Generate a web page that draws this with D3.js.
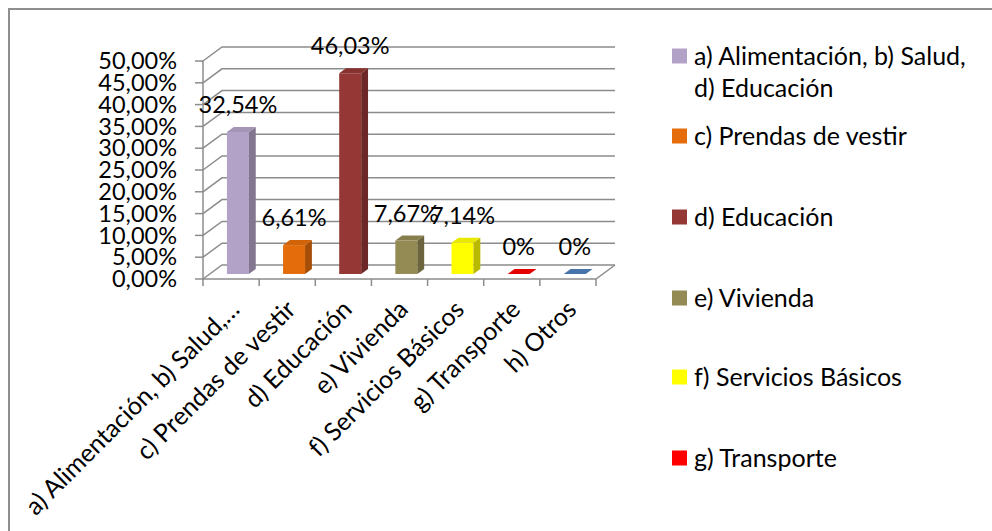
<!DOCTYPE html>
<html>
<head>
<meta charset="utf-8">
<script src="https://cdn.jsdelivr.net/npm/d3@7"></script>
<style>
  body { margin: 0; background: #fff; }
  svg text { font-family: Lato, "Open Sans", sans-serif; fill: #000; }
</style>
</head>
<body>
<svg id="chart" width="992" height="531"></svg>
<script>
"use strict";

// chart data
const categories = ["a) Alimentación, b) Salud,…", "c) Prendas de vestir", "d) Educación",
                    "e) Vivienda", "f) Servicios Básicos", "g) Transporte", "h) Otros"];
const values = [0.3254, 0.0661, 0.4603, 0.0767, 0.0714, 0, 0];
const valueLabels = ["32,54%", "6,61%", "46,03%", "7,67%", "7,14%", "0%", "0%"];
const colors = ["#b3a2c7", "#e46c0a", "#953735", "#948a54", "#ffff00", "#ff0000", "#4f81bd"];
const legendLabels = [["a) Alimentación, b) Salud,", "d) Educación"], ["c) Prendas de vestir"],
                      ["d) Educación"], ["e) Vivienda"], ["f) Servicios Básicos"], ["g) Transporte"]];
const yTicks = [0, 0.05, 0.1, 0.15, 0.2, 0.25, 0.3, 0.35, 0.4, 0.45, 0.5];

const plotLeft = 203, plotRight = 596;
const floorY = 279, topY = 61;
const depthX = 19, depthY = -14;        // offset of the back wall
const barFront = 0.36, barBack = 0.72;  // bar position inside the depth
const barW = 22;
const textSize = 25, numSize = 23.5;
const gridColor = "#8c8c8c";

const svg = d3.select("#chart");

// outer chart border (runs off the page at right and bottom)
svg.append("rect")
    .attr("x", 9).attr("y", 9)
    .attr("width", 1000).attr("height", 600)
    .attr("fill", "none")
    .attr("stroke", "#8e8e8e")
    .attr("stroke-width", 2);

const xScale = d3.scaleBand().domain(categories).range([plotLeft, plotRight]);
const yScale = d3.scaleLinear().domain([0, 0.5]).range([floorY, topY]);

const grid = svg.append("g").attr("stroke", gridColor).attr("stroke-width", 1.5).attr("fill", "none");

// wall diagonals and back gridlines
yTicks.forEach(t => {
    let y = yScale(t);
    grid.append("path").attr("d", d3.line()([[plotLeft, y], [plotLeft + depthX, y + depthY],
                                              [plotRight + depthX, y + depthY]]));
});
// floor
grid.append("path").attr("d", d3.line()([[plotLeft, floorY], [plotRight, floorY],
                                          [plotRight + depthX, floorY + depthY]]));
// y axis line and ticks
grid.append("line").attr("x1", plotLeft).attr("x2", plotLeft)
    .attr("y1", yScale(0.5)).attr("y2", floorY + 1);
yTicks.forEach(t => {
    grid.append("line").attr("x1", plotLeft - 8).attr("x2", plotLeft)
        .attr("y1", yScale(t)).attr("y2", yScale(t));
});
// x axis ticks
const xEdges = categories.map(c => xScale(c)).concat([plotRight]);
xEdges.forEach(x => {
    grid.append("line").attr("x1", x).attr("x2", x).attr("y1", floorY).attr("y2", floorY + 7);
});

// y labels
svg.append("g").selectAll("text")
    .data(yTicks)
    .join("text")
    .attr("x", 177)
    .attr("y", t => yScale(t))
    .attr("dy", "0.35em")
    .attr("text-anchor", "end")
    .attr("font-size", numSize)
    .text(t => d3.format(".2f")(t * 100).replace(".", ",") + "%");

// 3d bars
function barFaces(i) {
    let cx = xScale(categories[i]) + xScale.bandwidth() / 2;
    let fx = barFront * depthX, fy = barFront * depthY;
    let bx = barBack * depthX, by = barBack * depthY;
    let x0 = cx - barW / 2 + fx, x1 = x0 + barW;
    let yb = floorY + fy, yt = yScale(values[i]) + fy;
    let dx = bx - fx, dy = by - fy;
    return {
        front: [[x0, yb], [x1, yb], [x1, yt], [x0, yt]],
        side: [[x1, yb], [x1 + dx, yb + dy], [x1 + dx, yt + dy], [x1, yt]],
        top: [[x0, yt], [x1, yt], [x1 + dx, yt + dy], [x0 + dx, yt + dy]],
        labelX: (x0 + x1) / 2,
        labelY: yt - 19
    };
}
const closed = d3.line().curve(d3.curveLinearClosed);
const bars = svg.append("g");
values.forEach((v, i) => {
    let f = barFaces(i);
    let base = d3.color(colors[i]);
    if (v > 0) {
        bars.append("path").attr("d", closed(f.front)).attr("fill", base);
        bars.append("path").attr("d", closed(f.side)).attr("fill", base.darker(0.9));
    }
    bars.append("path").attr("d", closed(f.top)).attr("fill", v > 0 ? base.darker(0.25) : base.darker(0.3));
});

// data labels
svg.append("g").selectAll("text")
    .data(values.map((v, i) => barFaces(i)))
    .join("text")
    .attr("x", d => d.labelX)
    .attr("y", d => d.labelY)
    .attr("text-anchor", "middle")
    .attr("font-size", numSize)
    .text((d, i) => valueLabels[i]);

// rotated category labels
svg.append("g").selectAll("text")
    .data(categories)
    .join("text")
    .attr("text-anchor", "end")
    .attr("font-size", textSize)
    .attr("transform", c => "translate(" + (xScale(c) + xScale.bandwidth() / 2 + 10) + "," + (floorY + 32) + ") rotate(-45)")
    .text(c => c);

// legend
const legendY = [56, 136, 217, 298, 377, 458];
const legend = svg.append("g");
legendLabels.forEach((lines, i) => {
    legend.append("rect")
        .attr("x", 672).attr("y", legendY[i] - 7.5)
        .attr("width", 15).attr("height", 15)
        .attr("fill", colors[i]);
    lines.forEach((line, j) => {
        legend.append("text")
            .attr("x", 694)
            .attr("y", legendY[i] + j * 32)
            .attr("dy", "0.35em")
            .attr("font-size", textSize)
            .text(line);
    });
});
</script>
</body>
</html>
